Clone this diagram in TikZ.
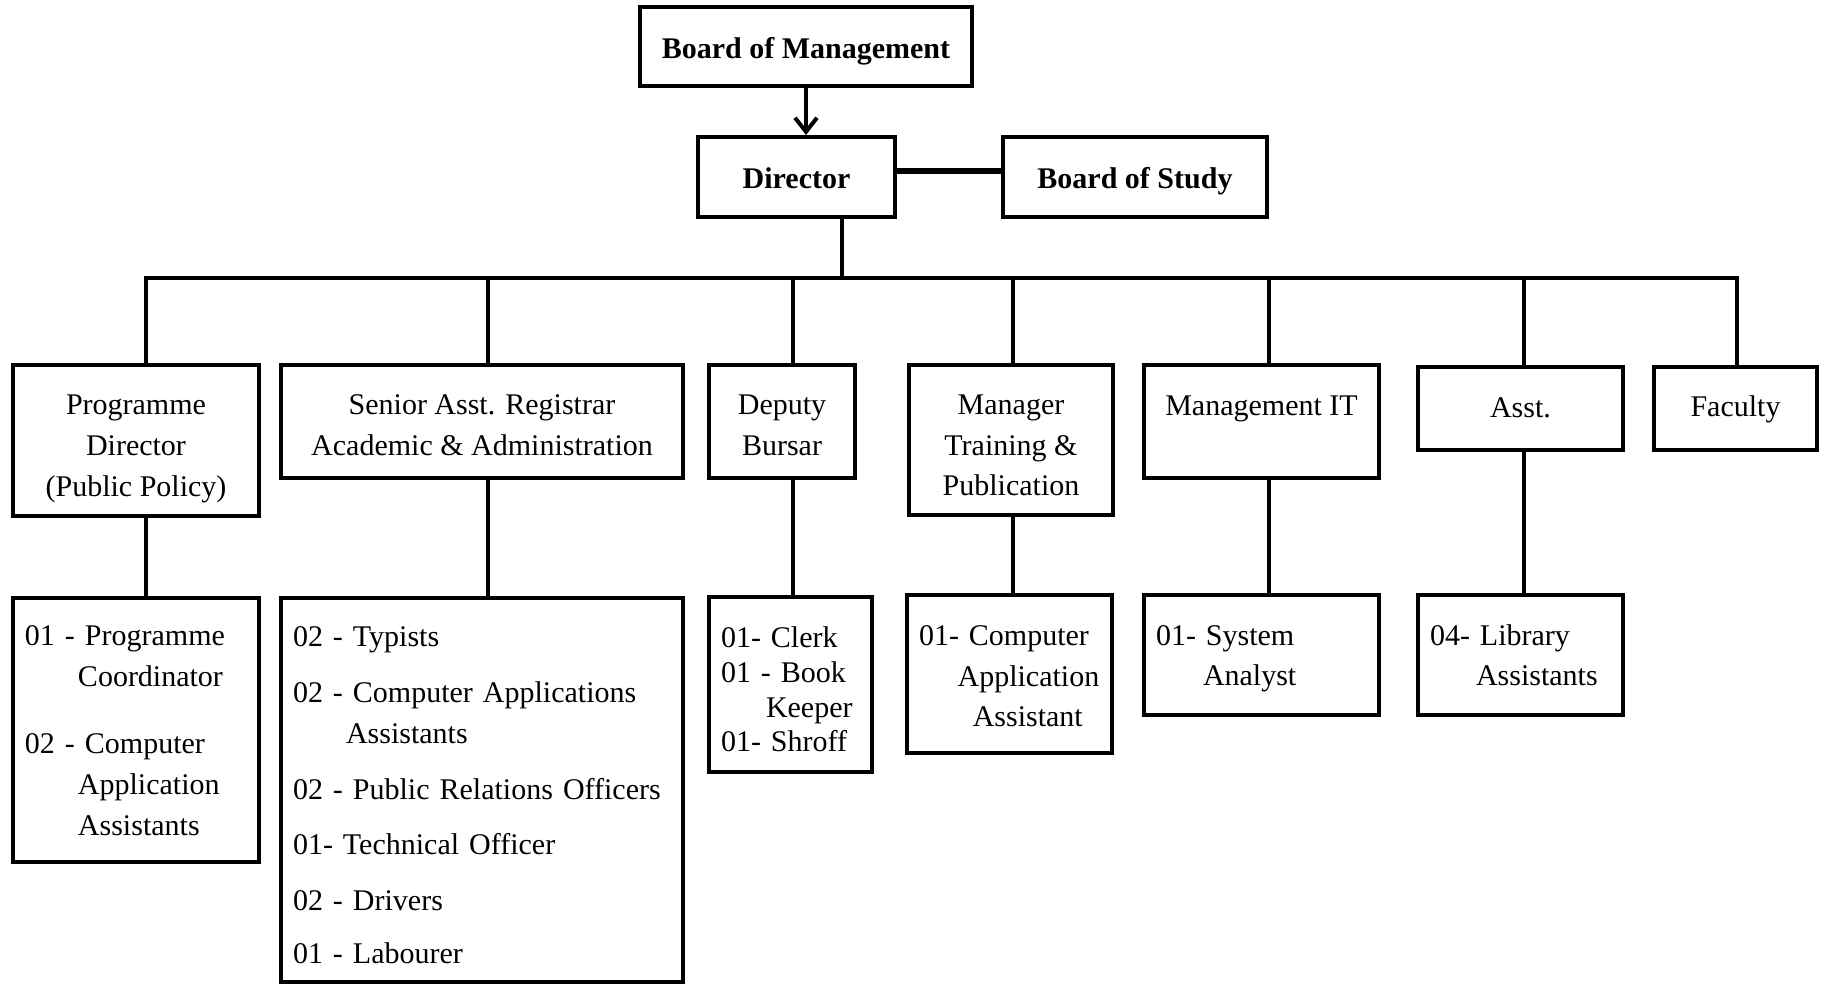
\documentclass[tikz,border=0pt]{standalone}
\usepackage{fontspec}
\setmainfont{Liberation Serif}
\usetikzlibrary{arrows.meta}
\newcommand{\ctext}[2]{\raisebox{-#1}[\height][\depth]{\begin{tabular}{@{}c@{}}#2\end{tabular}}}
\newcommand{\ltext}[2]{\raisebox{-#1}[\height][\depth]{\begin{tabular}{@{}l@{}}#2\end{tabular}}}
\tikzset{
  orgline/.style={line width=2pt},
  headbox/.style={draw,line width=2pt,font=\fontsize{15}{20.4}\selectfont\bfseries},
  unitbox/.style={draw,line width=2pt,font=\fontsize{15}{20.4}\selectfont},
  staffbox/.style={draw,line width=2pt,align=left,inner xsep=6pt,font=\fontsize{15}{20.4}\selectfont},
}
\begin{document}
\begin{tikzpicture}[x=0.5pt,y=-0.5pt]
\useasboundingbox (0,0) rectangle (1828,988);
% top boxes
\node[headbox,minimum width=166pt,minimum height=39.5pt] (bom) at (806,46.5) {\ctext{1.75pt}{Board of Management}};
\node[headbox,minimum width=98.5pt,minimum height=40pt] (dir) at (796.5,177) {\ctext{1.75pt}{Director}};
\node[headbox,minimum width=132pt,minimum height=40pt] (bos) at (1135,177) {\ctext{1.75pt}{Board of Study}};
% units
\node[unitbox,minimum width=123pt,minimum height=75.5pt] (pd) at (136,440.5) {\ctext{3.5pt}{Programme\\Director\\(Public Policy)}};
\node[unitbox,minimum width=201pt,minimum height=56.5pt] (sar) at (482,421.5) {\ctext{2.7pt}{Senior Asst. Registrar\\Academic \& Administration}};
\node[unitbox,minimum width=73pt,minimum height=56.5pt] (db) at (782,421.5) {\ctext{2.5pt}{Deputy\\Bursar}};
\node[unitbox,minimum width=102pt,minimum height=75pt] (mt) at (1011,440) {\ctext{3.5pt}{Manager\\Training \&\\Publication}};
\node[unitbox,minimum width=117.5pt,minimum height=56.5pt] (mit) at (1261.5,421.5) {\ctext{-7pt}{Management IT}};
\node[unitbox,minimum width=102.5pt,minimum height=41.5pt] (asst) at (1520.5,408.5) {\ctext{0.6pt}{Asst.}};
\node[unitbox,minimum width=81.5pt,minimum height=41.5pt] (fac) at (1735.5,408.5) {\ctext{0pt}{Faculty}};
% staff
\node[staffbox,text width=111pt,minimum height=132pt] (pds) at (136,730) {\ltext{1.2pt}{01 - Programme\\
\hspace*{26.5pt}Coordinator\\[13pt]
02 - Computer\\
\hspace*{26.5pt}Application\\
\hspace*{26.5pt}Assistants}};
\node[staffbox,text width=189pt,minimum height=192pt] (sars) at (482,790) {\ltext{3.5pt}{02 - Typists\\[7.5pt]
02 - Computer Applications\\
\hspace*{26.5pt}Assistants\\[7.5pt]
02 - Public Relations Officers\\[7.5pt]
01- Technical Officer\\[7.5pt]
02 - Drivers\\[6pt]
01 - Labourer}};
\node[staffbox,text width=69.5pt,minimum height=87.5pt] (dbs) at (790.5,684.5) {\ltext{3.5pt}{01- Clerk\\[-3pt]
01 - Book\\[-3pt]
\hspace*{22.5pt}Keeper\\[-3pt]
01- Shroff}};
\node[staffbox,text width=90.5pt,minimum height=79pt] (mts) at (1009.5,674) {\ltext{2pt}{01- Computer\\
\hspace*{19.3pt}Application\\
\hspace*{26.9pt}Assistant}};
\node[staffbox,text width=105.5pt,minimum height=60pt] (its) at (1261.5,655) {\ltext{1.2pt}{01- System\\
\hspace*{23.5pt}Analyst}};
\node[staffbox,text width=90.5pt,minimum height=60pt] (lib) at (1520.5,655) {\ltext{1.2pt}{04- Library\\
\hspace*{23pt}Assistants}};
% bus points
\coordinate (dj) at (842,278);
\coordinate (b1) at (146,278);
\coordinate (b2) at (488,278);
\coordinate (b3) at (793,278);
\coordinate (b4) at (1013,278);
\coordinate (b5) at (1269,278);
\coordinate (b6) at (1524,278);
\coordinate (b7) at (1737,278);
% connectors
\draw[orgline,-{Straight Barb[length=7pt,width=11pt]}] (bom.south) -- (bom.south |- dir.north);
\draw[line width=2.8pt] ([yshift=3pt]dir.east) -- ([yshift=3pt]bos.west);
\draw[orgline] (dj |- dir.south) -- (dj);
\draw[orgline] (b1 |- pd.north) -- (b1) -- (b7) -- (b7 |- fac.north);
\draw[orgline] (b2) -- (b2 |- sar.north);
\draw[orgline] (b3) -- (b3 |- db.north);
\draw[orgline] (b4) -- (b4 |- mt.north);
\draw[orgline] (b5) -- (b5 |- mit.north);
\draw[orgline] (b6) -- (b6 |- asst.north);
\draw[orgline] (b1 |- pd.south) -- (b1 |- pds.north);
\draw[orgline] (b2 |- sar.south) -- (b2 |- sars.north);
\draw[orgline] (b3 |- db.south) -- (b3 |- dbs.north);
\draw[orgline] (b4 |- mt.south) -- (b4 |- mts.north);
\draw[orgline] (b5 |- mit.south) -- (b5 |- its.north);
\draw[orgline] (b6 |- asst.south) -- (b6 |- lib.north);
\end{tikzpicture}
\end{document}
